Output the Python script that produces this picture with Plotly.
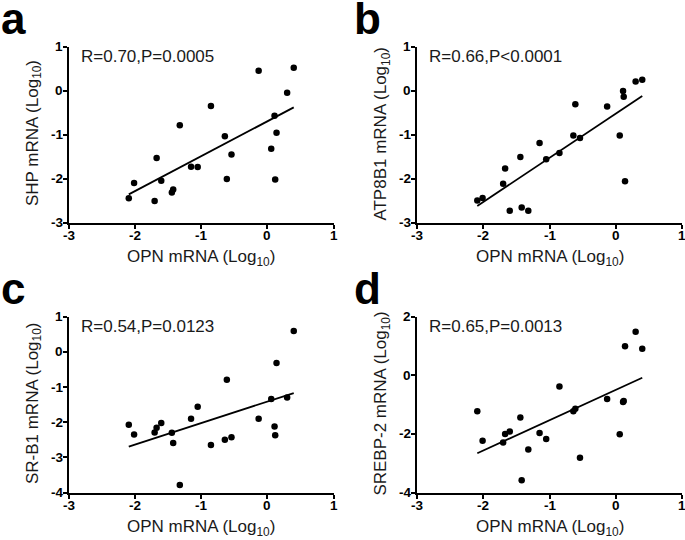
import numpy as np
import plotly.graph_objects as go
from plotly.subplots import make_subplots

# OPN mRNA (Log10), shared by all four panels
opn = [-2.09, -2.01, -1.70, -1.67, -1.60, -1.44, -1.42, -1.32, -1.15, -1.05, -0.85,
       -0.64, -0.61, -0.54, -0.13, 0.06, 0.11, 0.12, 0.14, 0.30, 0.40]

shp = [-2.45, -2.10, -2.51, -1.53, -2.05, -2.32, -2.25, -0.79, -1.73, -1.74, -0.35,
       -1.04, -2.01, -1.45, 0.45, -1.32, -0.57, -2.02, -0.96, -0.05, 0.52]
atp8b1 = [-2.50, -2.44, -2.12, -1.77, -2.73, -1.51, -2.66, -2.73, -1.19, -1.56, -1.42,
          -1.02, -0.31, -1.08, -0.36, -1.02, -0.01, -0.14, -2.06, 0.21, 0.25]
srb1 = [-2.07, -2.35, -2.29, -2.16, -2.02, -2.30, -2.59, -3.79, -1.90, -1.56, -2.65,
        -2.50, -0.79, -2.43, -1.90, -1.34, -2.12, -2.37, -0.32, -1.30, 0.59]
srebp2 = [-1.23, -2.23, -2.29, -2.00, -1.92, -1.44, -3.58, -2.53, -1.97, -2.17, -0.38,
          -1.23, -1.14, -2.81, -0.81, -2.01, -0.91, -0.88, 0.99, 1.49, 0.91]

panel_letters = ["a", "b", "c", "d"]
y_titles = ["SHP mRNA (Log<sub>10</sub>)", "ATP8B1 mRNA (Log<sub>10</sub>)",
            "SR-B1 mRNA (Log<sub>10</sub>)", "SREBP-2 mRNA (Log<sub>10</sub>)"]
x_title = "OPN mRNA (Log<sub>10</sub>)"
stats = ["R=0.70,P=0.0005", "R=0.66,P<0.0001", "R=0.54,P=0.0123", "R=0.65,P=0.0013"]
y_ranges = [[-3, 1], [-3, 1], [-4, 1], [-4, 2]]
y_ticks = [[-3, -2, -1, 0, 1], [-3, -2, -1, 0, 1], [-4, -3, -2, -1, 0, 1], [-4, -2, 0, 2]]
x_ticks = [-3, -2, -1, 0, 1]
x_range = [-3, 1]

series = [shp, atp8b1, srb1, srebp2]

W, H = 685, 540
font = "Liberation Sans, Arial, sans-serif"

fig = make_subplots(rows=2, cols=2)

# panel boxes in pixels: (left, right, top, bottom)
boxes = [(68.5, 333.5, 46.7, 222.5), (417, 682, 46.7, 222.5),
         (68.5, 333.5, 316.7, 492.5), (417, 682, 316.7, 492.5)]

tick_font = dict(family=font, size=13.5, color="black")
axes = {}

for i, ys in enumerate(series):
    r, c = i // 2 + 1, i % 2 + 1
    fig.add_trace(go.Scatter(x=opn, y=ys, mode="markers",
                             marker=dict(color="black", size=6.5), showlegend=False),
                  row=r, col=c)
    slope, icpt = np.polyfit(opn, ys, 1)
    xl = np.array([min(opn), max(opn)])
    fig.add_trace(go.Scatter(x=xl, y=slope * xl + icpt, mode="lines",
                             line=dict(color="black", width=1.8), showlegend=False),
                  row=r, col=c)

    l, rt, t, b = boxes[i]
    suffix = "" if i == 0 else str(i + 1)
    axes["xaxis" + suffix] = dict(
        domain=[l / W, rt / W], range=x_range, tickvals=x_ticks, showticklabels=False,
        showline=True, linecolor="black", linewidth=2,
        ticks="outside", ticklen=4, tickwidth=2, tickcolor="black",
        showgrid=False, zeroline=False, automargin=False)
    axes["yaxis" + suffix] = dict(
        domain=[1 - b / H, 1 - t / H], range=y_ranges[i], tickvals=y_ticks[i],
        showticklabels=False,
        showline=True, linecolor="black", linewidth=2,
        ticks="outside", ticklen=4, tickwidth=2, tickcolor="black",
        showgrid=False, zeroline=False, automargin=False)

    # bold tick labels, placed at the tick values of each axis
    for v in x_ticks:
        fig.add_annotation(x=v, y=y_ranges[i][0], xref="x" + suffix, yref="y" + suffix,
                           text="<b>%d</b>" % v, showarrow=False,
                           xanchor="center", yanchor="top", yshift=-3,
                           font=tick_font)
    for v in y_ticks[i]:
        fig.add_annotation(x=x_range[0], y=v, xref="x" + suffix, yref="y" + suffix,
                           text="<b>%d</b>" % v, showarrow=False,
                           xanchor="right", yanchor="middle", xshift=-4,
                           font=tick_font)

    # axis titles
    fig.add_annotation(x=(l + rt) / 2 / W, y=1 - (b + 35) / H, xref="paper", yref="paper",
                       text=x_title, showarrow=False, xanchor="center", yanchor="middle",
                       font=dict(family=font, size=17, color="#1a1a1a"))
    fig.add_annotation(x=(l - 35) / W, y=1 - ((t + b) / 2 - 1) / H, xref="paper", yref="paper",
                       text=y_titles[i], showarrow=False, textangle=-90,
                       xanchor="center", yanchor="middle",
                       font=dict(family=font, size=17, color="#1a1a1a"))

    fig.add_annotation(x=(l + 10) / W, y=1 - (t + 10) / H, xref="paper", yref="paper",
                       text=stats[i], showarrow=False, xanchor="left", yanchor="middle",
                       font=dict(family=font, size=17, color="#1a1a1a"))
    fig.add_annotation(x=(l - 70 if c == 1 else l - 65) / W, y=1 - (t - 28) / H,
                       xref="paper", yref="paper",
                       text="<b>" + panel_letters[i] + "</b>", showarrow=False,
                       xanchor="left", yanchor="middle",
                       font=dict(family=font, size=44, color="black"))

fig.update_layout(**axes)
fig.update_layout(width=W, height=H, margin=dict(l=0, r=0, t=0, b=0),
                  font=dict(family=font, color="black"),
                  plot_bgcolor="white", paper_bgcolor="white")

fig.write_html("out.html", config={"displayModeBar": False},
               post_script="document.body.style.margin='0';")
